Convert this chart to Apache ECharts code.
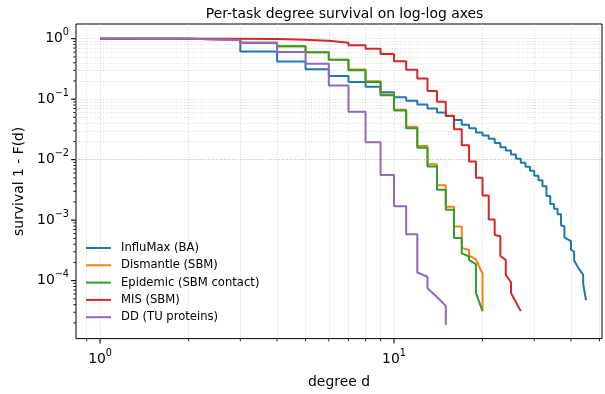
<!DOCTYPE html>
<html><head><meta charset="utf-8">
<script src="https://cdn.jsdelivr.net/npm/echarts@6/dist/echarts.min.js"></script>
<style>html,body{margin:0;padding:0;background:#fff}#c{width:605px;height:394px}</style>
</head><body><div id="c"></div>
<script>
const FONT = 'DejaVu Sans';
const seriesNames = ['InfluMax (BA)', 'Dismantle (SBM)', 'Epidemic (SBM contact)', 'MIS (SBM)', 'DD (TU proteins)'];
const seriesColors = ['#1f77b4', '#ff7f0e', '#2ca02c', '#d62728', '#9467bd'];

// polyline vertices (degree, survival)
const influDeg  = [1,3,3,4,4,5,5,6,6,7,7,8,8,9,9,10,10,11,11,12,12,13,13,14,14,15,15,16,16,17,17,18,18,19,19,20,20,21,21,22,22,23,23,24,24,25,25,26,26,27,27,28,28,29,29,30,30,31,31,32,32,33,33,34,34,35,35,36,36,37,37,38,38,39,40,40,41,41,42,43,44,44,45];
const influSurv = [1.0,0.99,0.615,0.615,0.418,0.418,0.313,0.313,0.241,0.241,0.193,0.193,0.160,0.160,0.130,0.130,0.108,0.108,0.0946,0.0946,0.0814,0.0814,0.0701,0.0701,0.0603,0.0603,0.0529,0.0529,0.0452,0.0452,0.0377,0.0377,0.0331,0.0331,0.0282,0.0282,0.0252,0.0252,0.0222,0.0222,0.0189,0.0189,0.0161,0.0161,0.0142,0.0142,0.0122,0.0122,0.0104,0.0104,0.00893,0.00893,0.0076,0.0076,0.00655,0.00655,0.00543,0.00543,0.00456,0.00456,0.00364,0.00364,0.0025,0.0025,0.00185,0.00185,0.00154,0.00154,0.00125,0.00125,0.000814,0.00079,0.000519,0.000482,0.00045,0.000325,0.0003,0.000215,0.000175,0.000146,0.000125,0.0000893,0.0000473];

const dismDeg  = [1,2,2,3,3,4,4,5,5,6,6,7,7,8,8,9,9,10,10,11,11,12,12,13,13,14,14,15,15,16,16,17,17,18,18,19,20,20];
const dismSurv = [1.0,1.0,0.963,0.963,0.861,0.861,0.749,0.749,0.599,0.599,0.447,0.447,0.31,0.31,0.198,0.198,0.119,0.119,0.067,0.067,0.0351,0.0351,0.0169,0.0169,0.0084,0.0084,0.00378,0.00378,0.00166,0.00166,0.000784,0.000784,0.000348,0.00032,0.00026,0.000225,0.00013,0.0000313];

const epiDeg  = [1,2,2,3,3,4,4,5,5,6,6,7,7,8,8,9,9,10,10,11,11,12,12,13,13,14,14,15,15,16,16,17,17,18,18,19,19,20];
const epiSurv = [1.0,1.0,0.963,0.963,0.861,0.861,0.749,0.749,0.599,0.599,0.447,0.447,0.302,0.302,0.193,0.193,0.116,0.116,0.065,0.065,0.0331,0.0331,0.0157,0.0157,0.00769,0.00769,0.00319,0.00319,0.00148,0.00148,0.000509,0.000509,0.000282,0.00025,0.000219,0.000188,0.0000626,0.0000313];

const misDeg  = [1,3,3,4,4,5,5,6,6,7,7,8,8,9,9,10,10,11,11,12,12,13,13,14,14,15,15,16,16,17,17,18,18,19,19,20,20,21,21,22,22,23,23,24,24,25,25,27];
const misSurv = [1.0,0.995,0.985,0.985,0.964,0.964,0.928,0.928,0.861,0.861,0.778,0.778,0.68,0.68,0.556,0.556,0.423,0.423,0.307,0.307,0.22,0.22,0.136,0.136,0.091,0.091,0.0533,0.0533,0.0319,0.0319,0.0173,0.0173,0.00928,0.00928,0.005,0.005,0.00255,0.00255,0.00102,0.00102,0.00057,0.00054,0.000255,0.00022,0.000125,0.000094,0.0000626,0.0000313];

const ddDeg  = [1,2,2,3,3,4,4,5,5,6,6,7,7,8,8,9,9,10,10,11,11,12,12,13,13,14,15,15];
const ddSurv = [1.0,1.0,0.953,0.953,0.85,0.85,0.603,0.603,0.385,0.385,0.168,0.168,0.0619,0.0619,0.0194,0.0194,0.00556,0.00556,0.0017,0.0017,0.000587,0.000587,0.000136,0.000116,0.000075,0.0000535,0.0000382,0.0000185];

const xRange = [0.828, 51.0];
const yRange = [1.10e-5, 1.75];
const xMajorTicks = [1, 10];
const xMinorTicks = [0.9, 2, 3, 4, 5, 6, 7, 8, 9, 20, 30, 40, 50];
const yMajorTicks = [1, 0.1, 0.01, 0.001, 0.0001];
const yMinorTicks = [];
[1e-5, 1e-4, 1e-3, 1e-2, 1e-1].forEach(function (dec) {
  for (let k = 2; k <= 9; k++) yMinorTicks.push(+(k * dec).toPrecision(3));
});

const allDeg = [influDeg, dismDeg, epiDeg, misDeg, ddDeg];
const allSurv = [influSurv, dismSurv, epiSurv, misSurv, ddSurv];

function supLabel(v) {
  const l = Math.log10(v);
  const e = Math.round(l);
  if (Math.abs(l - e) > 1e-6) return '';
  return '{b|10}{s|' + String(e).replace('-', '\u2212') + '}';
}
const richSup = {
  b: { fontFamily: FONT, fontSize: 13.9, color: '#000', lineHeight: 17 },
  s: { fontFamily: FONT, fontSize: 9.7, color: '#000', lineHeight: 11, padding: [0, 0, 12, 0] }
};
const gridStyle = { color: '#cfcfcf', width: 0.8, type: [1, 1.7] };

const chart = echarts.init(document.getElementById('c'), null, { renderer: 'canvas' });

const series = [{
  name: '_grid', type: 'line', data: [], silent: true, z: 0,
  markLine: {
    silent: true, symbol: 'none', animation: false, z: 0,
    label: { show: false },
    lineStyle: gridStyle,
    data: xMajorTicks.concat(xMinorTicks).map(function (v) { return { xAxis: v }; })
      .concat(yMajorTicks.concat(yMinorTicks).map(function (v) { return { yAxis: v }; }))
  }
}];
seriesNames.forEach(function (nm, i) {
  series.push({
    name: nm, type: 'line', symbol: 'none', showSymbol: false, animation: false, z: 3 + i,
    color: seriesColors[i],
    lineStyle: { width: 2, color: seriesColors[i] },
    data: allDeg[i].map(function (d, j) { return [d, allSurv[i][j]]; })
  });
});

chart.setOption({
  backgroundColor: '#fff',
  animation: false,
  title: {
    text: 'Per-task degree survival on log-log axes',
    left: 339.5, top: 2, textAlign: 'center',
    textStyle: { fontFamily: FONT, fontSize: 13.9, fontWeight: 'normal', color: '#000' }
  },
  grid: { left: 76, right: 2, top: 24, bottom: 50, show: true, borderColor: '#000', borderWidth: 1, backgroundColor: 'transparent' },
  legend: {
    data: seriesNames.map(function (n) { return { name: n, icon: 'rect' }; }),
    orient: 'vertical', left: 86, top: 242, padding: 0,
    itemWidth: 25, itemHeight: 2, itemGap: 5.3,
    formatter: function (n) { return '{t|' + n + '}'; },
    textStyle: {
      fontFamily: FONT, fontSize: 11.6, color: '#000', lineHeight: 12,
      rich: { t: { fontFamily: FONT, fontSize: 11.6, color: '#000', lineHeight: 12, padding: [0, 0, 0, 5] } }
    },
    selectedMode: false
  },
  xAxis: {
    type: 'log', logBase: 10, min: xRange[0], max: xRange[1],
    name: 'degree d', nameLocation: 'middle', nameGap: 32,
    nameTextStyle: { fontFamily: FONT, fontSize: 13.9, color: '#000' },
    axisLine: { show: false }, axisTick: { show: false }, splitLine: { show: false }, minorTick: { show: false },
    axisLabel: { formatter: supLabel, rich: richSup, margin: 12, showMinLabel: true, showMaxLabel: true }
  },
  yAxis: {
    type: 'log', logBase: 10, min: yRange[0], max: yRange[1],
    name: 'survival 1 - F(d)', nameLocation: 'middle', nameGap: 49, nameRotate: 90,
    nameTextStyle: { fontFamily: FONT, fontSize: 13.9, color: '#000' },
    axisLine: { show: false }, axisTick: { show: false }, splitLine: { show: false }, minorTick: { show: false },
    axisLabel: { formatter: supLabel, rich: richSup, margin: 7 }
  },
  series: series
});

// tick marks placed through the chart's own scales
const gEls = [];
function xTick(v, len, w) {
  const p = chart.convertToPixel({ xAxisIndex: 0 }, v);
  const yb = chart.convertToPixel({ yAxisIndex: 0 }, yRange[0]);
  gEls.push({ type: 'line', silent: true, shape: { x1: p, y1: yb, x2: p, y2: yb + len }, style: { stroke: '#000', lineWidth: w } });
}
function yTick(v, len, w) {
  const p = chart.convertToPixel({ yAxisIndex: 0 }, v);
  const xl = chart.convertToPixel({ xAxisIndex: 0 }, xRange[0]);
  gEls.push({ type: 'line', silent: true, shape: { x1: xl, y1: p, x2: xl - len, y2: p }, style: { stroke: '#000', lineWidth: w } });
}
xMajorTicks.forEach(function (v) { xTick(v, 4.9, 1.1); });
xMinorTicks.forEach(function (v) { xTick(v, 2.8, 0.85); });
yMajorTicks.forEach(function (v) { yTick(v, 4.9, 1.1); });
yMinorTicks.forEach(function (v) { yTick(v, 2.8, 0.85); });
chart.setOption({ graphic: { elements: gEls } });
</script></body></html>
